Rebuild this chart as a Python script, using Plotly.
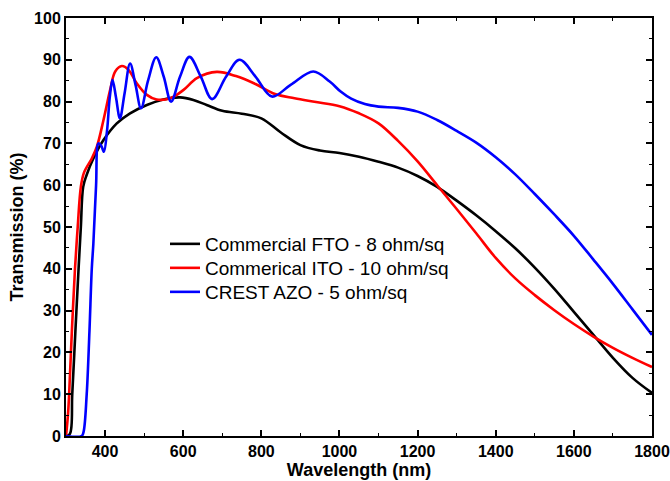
import plotly.graph_objects as go

# FTO (black)
fto_x = [300, 310, 316, 324, 332, 338, 344, 353, 370, 396, 430, 464, 507, 549, 592, 626, 660, 700,
         750, 800, 850, 900, 950, 1000, 1050, 1100, 1150, 1200, 1250, 1300, 1350, 1400, 1450, 1500,
         1550, 1600, 1650, 1700, 1750, 1800]
fto_y = [0, 0.5, 10, 25, 39.7, 50, 59.6, 62.5, 66.4, 70.8, 74.8, 77.2, 79.2, 80.5, 81, 80.4, 79.2, 77.8,
         77.1, 76, 72.6, 69.6, 68.3, 67.7, 66.8, 65.6, 64.2, 62.2, 59.6, 56.3, 52.8, 49, 44.9, 40.3,
         35.2, 29.7, 24.2, 18.7, 13.9, 10.3]

# ITO (red)
ito_x = [300, 305, 308, 315, 323, 330, 338, 346, 366, 379, 396, 413, 426, 443, 460, 481, 507, 532, 567, 601,
         635, 686, 735, 785, 835, 885, 940, 1000, 1050, 1100, 1150, 1200, 1250, 1300, 1350, 1400, 1450,
         1500, 1550, 1600, 1650, 1700, 1750, 1800]
ito_y = [0, 5, 10, 25, 40, 50, 59.6, 63, 66.4, 69.2, 75.6, 82.8, 87.2, 88.5, 87.6, 84.4, 81.6, 80.5, 80.8, 82.8,
         85.6, 87.1, 86.1, 84.2, 81.8, 80.8, 79.9, 78.9, 77.2, 74.8, 70.6, 65.7, 60, 54.3, 48.5, 42.6, 37.7,
         33.7, 30.1, 26.8, 23.8, 21.1, 18.7, 16.5]

# AZO (blue)
azo_x = [300, 340, 345, 353, 360, 366, 370, 377, 383, 390, 397, 405, 412, 419, 428, 438, 450, 464, 478,
         492, 510, 531, 550, 569, 592, 616, 645, 674, 710, 744, 785, 827, 875, 933, 975, 1003, 1030, 1065,
         1100, 1150, 1200, 1250, 1300, 1350, 1400, 1450, 1500, 1550, 1600, 1650, 1700, 1750, 1800]
azo_y = [0, 0, 1, 10, 25, 40, 46, 60, 70, 69.5, 68, 73, 81, 85.2, 81, 76, 82, 89.1, 84,
         78.4, 85, 90.6, 86, 80, 86, 90.7, 86, 80.6, 86, 90, 86, 81.2, 84, 87.2, 84.8, 82.4, 80.7, 79.4,
         78.8, 78.5, 77.6, 75.6, 73, 70.2, 66.7, 62.6, 57.9, 53, 47.9, 42.2, 36.4, 30.3, 24.2]

names = ["Commercial FTO - 8 ohm/sq", "Commerical ITO - 10 ohm/sq", "CREST AZO - 5 ohm/sq"]
colors = ["#000000", "#ff0000", "#0000ff"]
legend_ids = ["legend", "legend2", "legend3"]

x_ticks = [400, 600, 800, 1000, 1200, 1400, 1600, 1800]
y_ticks = [0, 10, 20, 30, 40, 50, 60, 70, 80, 90, 100]

fig = go.Figure()
for xs, ys, nm, c, lg in zip([fto_x, ito_x, azo_x], [fto_y, ito_y, azo_y], names, colors, legend_ids):
    fig.add_trace(go.Scatter(x=xs, y=ys, mode="lines", name=nm, legend=lg,
                             line=dict(color=c, width=2.6, shape="spline", smoothing=1.0)))

font_family = "Liberation Sans, Arial, sans-serif"
axis_common = dict(showline=True, linecolor="black", linewidth=2, mirror="ticks",
                   ticks="inside", ticklen=6, tickwidth=1.5, tickcolor="black",
                   showgrid=False, zeroline=False, automargin=False,
                   tickfont=dict(family=font_family, size=16, color="black", weight="bold"))

title_font = dict(family=font_family, size=18, color="black", weight="bold")
fig.update_xaxes(range=[300, 1800], tickvals=x_ticks, ticktext=[str(v) for v in x_ticks],
                 minor=dict(ticks="inside", ticklen=3, dtick=100, tick0=300, tickcolor="black", tickwidth=1.2),
                 title=dict(text="Wavelength (nm)", standoff=0, font=title_font),
                 **axis_common)
fig.update_yaxes(range=[0, 100], tickvals=y_ticks, ticktext=[str(v) for v in y_ticks],
                 minor=dict(ticks="inside", ticklen=3, dtick=5, tick0=0, tickcolor="black", tickwidth=1.2),
                 title=dict(text="Transmission (%)", standoff=6, font=title_font),
                 **axis_common)

leg_font = dict(family=font_family, size=19, color="black")
row_y = [244, 268, 292]
layout_legends = {}
for lg, ry in zip(legend_ids, row_y):
    layout_legends[lg] = dict(x=(165 - 66) / 586, y=(436 - ry) / 418, xanchor="left", yanchor="middle",
                              bgcolor="rgba(0,0,0,0)", font=leg_font, itemwidth=30)

fig.update_layout(width=670, height=481, margin=dict(l=66, r=18, t=18, b=45),
                  plot_bgcolor="white", paper_bgcolor="white", showlegend=True, **layout_legends)

fig.write_html("out.html")
